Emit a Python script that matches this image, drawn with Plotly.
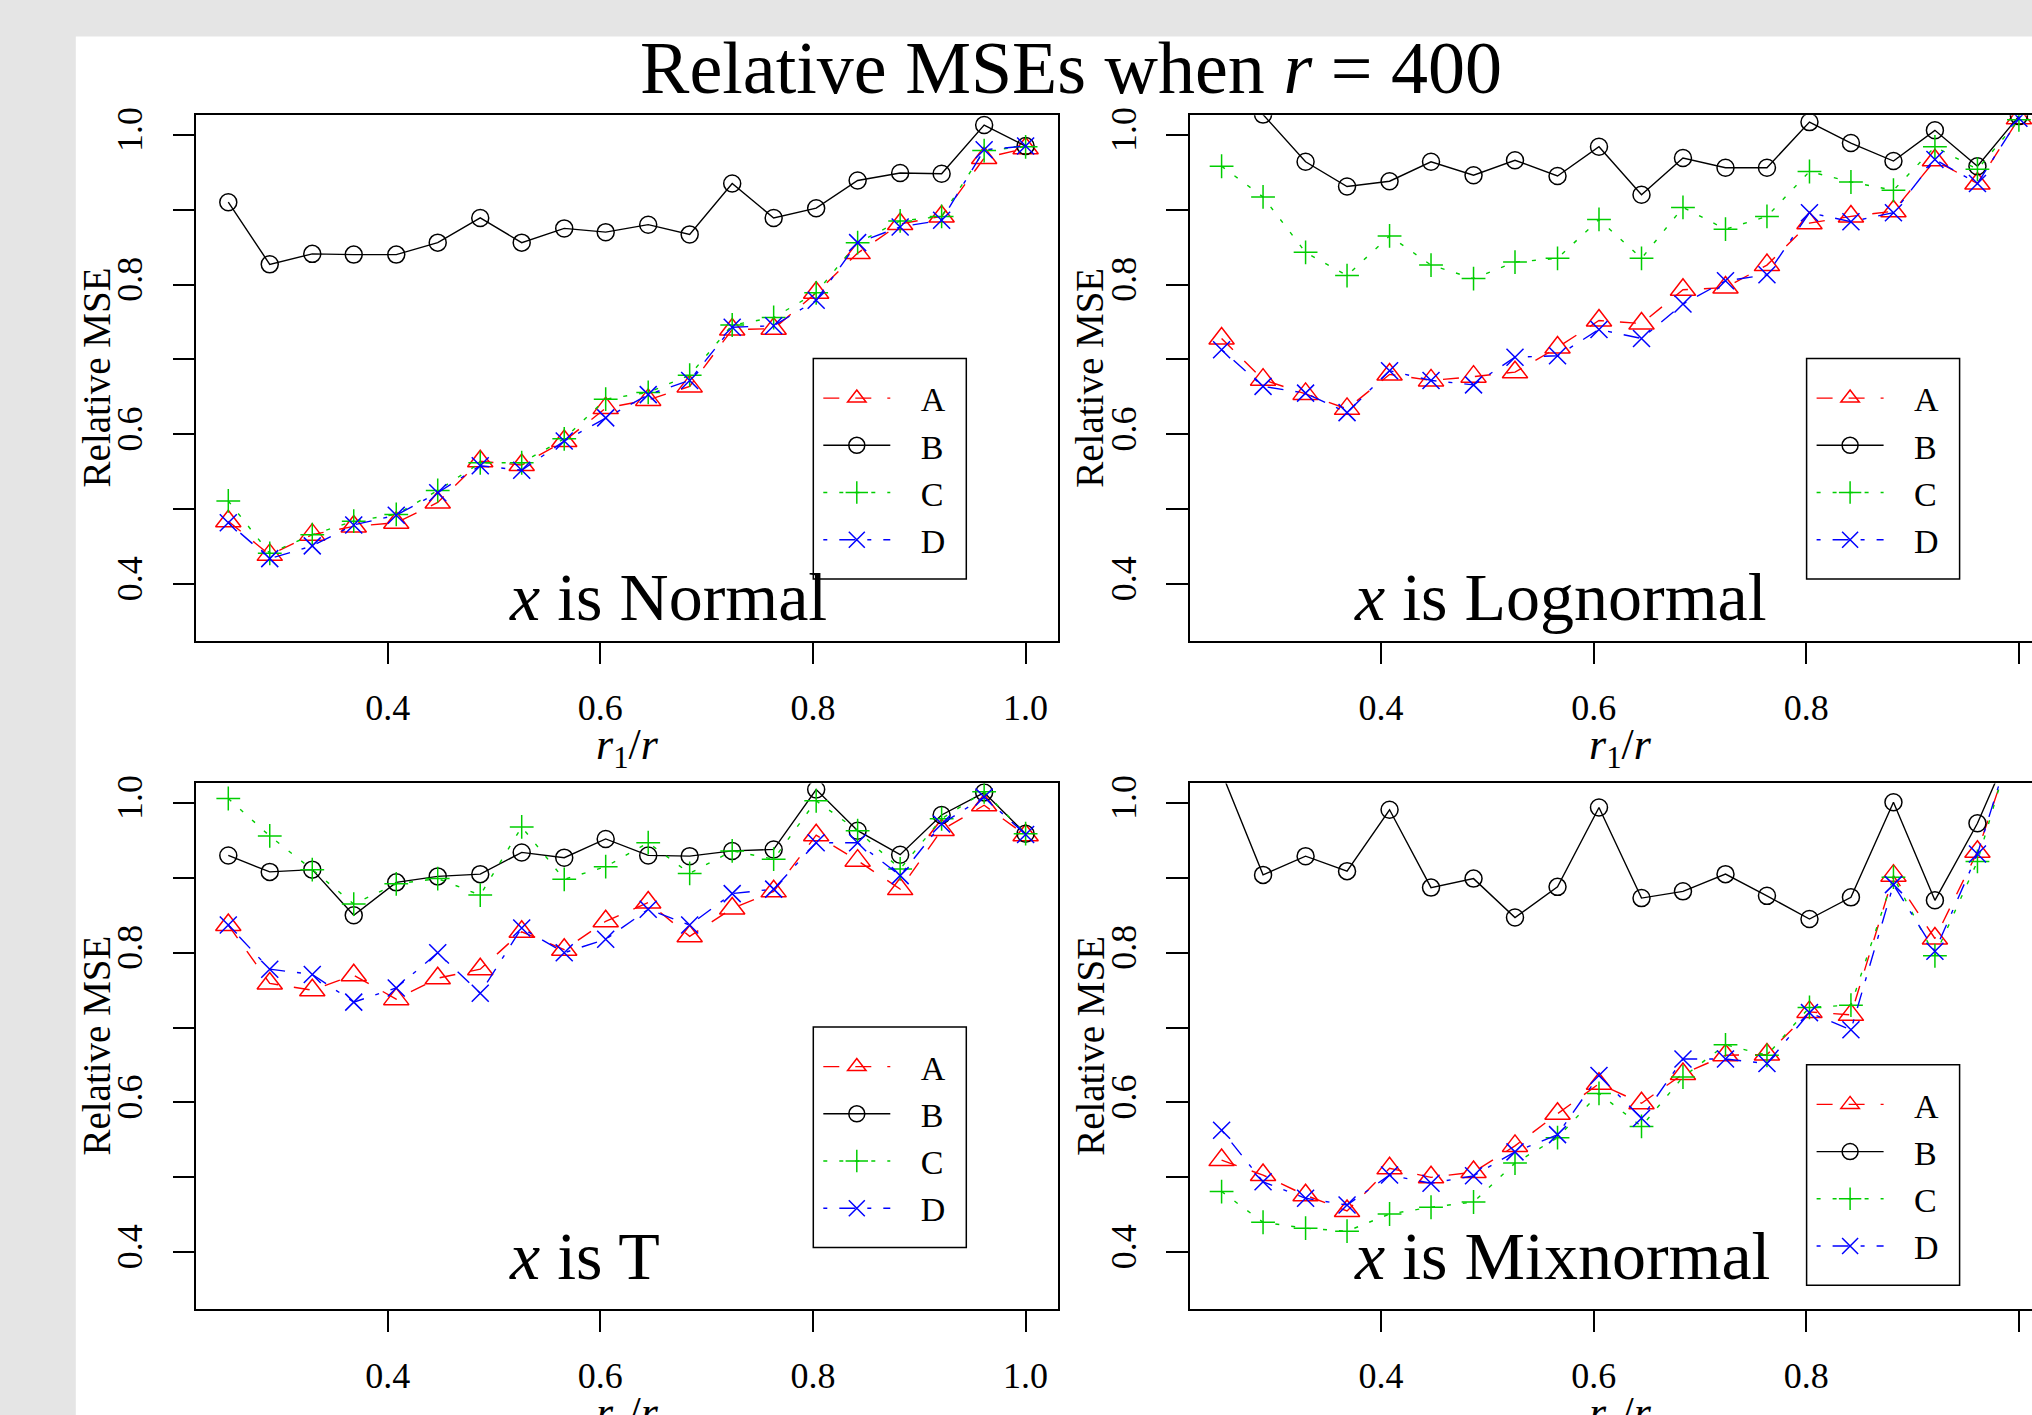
import plotly.graph_objects as go

W, H = 2032, 1415

# ---------------- data ----------------
r1_over_r = [0.25, 0.289, 0.329, 0.368, 0.408, 0.447, 0.487, 0.526, 0.566, 0.605,
             0.645, 0.684, 0.724, 0.763, 0.803, 0.842, 0.882, 0.921, 0.961, 1.0]

tick_x = [0.4, 0.6, 0.8, 1.0]
tick_x_text = ["0.4", "0.6", "0.8", "1.0"]
tick_y = [0.4, 0.6, 0.8, 1.0]
tick_y_text = ["0.4", "0.6", "0.8", "1.0"]
minor_tick_y = [0.5, 0.7, 0.9]

series_names = ["A", "B", "C", "D"]
panel_names = ["Normal", "Lognormal", "T", "Mixnormal"]

normal_A = [0.484, 0.439, 0.466, 0.477, 0.482, 0.509, 0.564, 0.559, 0.591, 0.635,
            0.646, 0.664, 0.740, 0.741, 0.789, 0.842, 0.881, 0.891, 0.969, 0.982]
normal_B = [0.910, 0.827, 0.841, 0.840, 0.840, 0.856, 0.889, 0.856, 0.875, 0.870,
            0.880, 0.867, 0.935, 0.889, 0.902, 0.939, 0.949, 0.948, 1.013, 0.985]
normal_C = [0.511, 0.441, 0.466, 0.484, 0.493, 0.525, 0.562, 0.562, 0.594, 0.647,
            0.656, 0.679, 0.746, 0.756, 0.789, 0.856, 0.885, 0.891, 0.979, 0.984]
normal_D = [0.482, 0.434, 0.451, 0.479, 0.492, 0.522, 0.558, 0.552, 0.591, 0.622,
            0.653, 0.672, 0.743, 0.745, 0.779, 0.856, 0.877, 0.886, 0.980, 0.985]

lognormal_A = [0.728, 0.673, 0.654, 0.634, 0.680, 0.672, 0.677, 0.683, 0.716, 0.752,
               0.748, 0.793, 0.796, 0.826, 0.882, 0.891, 0.898, 0.966, 0.935, 1.022]
lognormal_B = [1.060, 1.027, 0.964, 0.931, 0.938, 0.964, 0.946, 0.966, 0.945, 0.984,
               0.920, 0.969, 0.956, 0.956, 1.017, 0.989, 0.965, 1.006, 0.958, 1.025]
lognormal_C = [0.958, 0.917, 0.843, 0.812, 0.865, 0.826, 0.808, 0.830, 0.835, 0.887,
               0.835, 0.903, 0.874, 0.891, 0.951, 0.937, 0.926, 0.984, 0.954, 1.020]
lognormal_D = [0.713, 0.664, 0.655, 0.629, 0.685, 0.672, 0.666, 0.703, 0.705, 0.740,
               0.728, 0.774, 0.805, 0.813, 0.896, 0.884, 0.896, 0.967, 0.935, 1.022]

t_A = [0.837, 0.759, 0.750, 0.770, 0.738, 0.766, 0.778, 0.828, 0.804, 0.842,
       0.867, 0.822, 0.859, 0.882, 0.957, 0.923, 0.885, 0.964, 0.997, 0.957]
t_B = [0.930, 0.908, 0.911, 0.850, 0.894, 0.902, 0.905, 0.934, 0.927, 0.952,
       0.930, 0.929, 0.936, 0.938, 1.018, 0.963, 0.931, 0.984, 1.014, 0.959]
t_C = [1.006, 0.956, 0.911, 0.865, 0.892, 0.899, 0.877, 0.968, 0.898, 0.915,
       0.947, 0.906, 0.936, 0.925, 1.003, 0.963, 0.912, 0.979, 1.015, 0.959]
t_D = [0.837, 0.778, 0.771, 0.734, 0.753, 0.800, 0.746, 0.833, 0.800, 0.818,
       0.858, 0.837, 0.879, 0.885, 0.947, 0.947, 0.903, 0.972, 1.008, 0.958]

mix_A = [0.523, 0.503, 0.476, 0.455, 0.512, 0.500, 0.507, 0.542, 0.585, 0.625,
         0.599, 0.638, 0.663, 0.664, 0.721, 0.717, 0.903, 0.819, 0.935, 1.100]
mix_B = [1.041, 0.904, 0.929, 0.909, 0.991, 0.887, 0.899, 0.847, 0.888, 0.994,
         0.873, 0.882, 0.905, 0.876, 0.845, 0.874, 1.001, 0.870, 0.973, 1.100]
mix_C = [0.481, 0.440, 0.432, 0.428, 0.451, 0.460, 0.467, 0.519, 0.553, 0.612,
         0.568, 0.634, 0.677, 0.663, 0.727, 0.730, 0.901, 0.796, 0.922, 1.110]
mix_D = [0.563, 0.494, 0.472, 0.463, 0.503, 0.492, 0.502, 0.534, 0.557, 0.636,
         0.579, 0.658, 0.658, 0.652, 0.720, 0.697, 0.891, 0.802, 0.932, 1.110]

panels = [
    [normal_A, normal_B, normal_C, normal_D],
    [lognormal_A, lognormal_B, lognormal_C, lognormal_D],
    [t_A, t_B, t_C, t_D],
    [mix_A, mix_B, mix_C, mix_D],
]

# ---------------- styles ----------------
FONT = "Liberation Serif"
colors = ["#FF0000", "#000000", "#00CD00", "#0000FF"]
symbols = ["triangle-up-open", "circle-open", "cross-thin-open", "x-thin-open"]
msizes = [22, 17, 17, 17]
dashes = ["16px,16px", "solid", "4px,12px", "4px,12px,16px,12px"]
LEGEND_GAP = "\u00a0\u00a0\u00a0"   # space between legend symbol and its label

# panel boxes in pixels (left, right, top, bottom)
col_x = [(196.4, 1057.5), (1189.7, 2032.0)]
col_center = [627.0, 1620.0]
row_y = [(115.2, 640.6), (783.4, 1308.7)]
px_per_unit = (1057.5 - 196.4) / 0.81
x_ranges = [[0.22, 1.03], [0.22, 0.22 + (2032.0 - 1189.7) / px_per_unit]]
y_range = [0.3245, 1.0262]

legend_box = [(813.3, 358.5), (1806.6, 358.5), (813.3, 1027.0), (1806.6, 1064.8)]
LEG_W, LEG_H = 153.0, 220.5
label_pos = [(507, 597), (1352, 597), (507, 1255.6), (1352, 1255.6)]
ytitle_x = [96.5, 1089.8]
xtitle_y = [747.0, 1415.2]

fig = go.Figure()
layout = dict(
    width=W, height=H,
    margin=dict(l=0, r=0, t=0, b=0, pad=0),
    paper_bgcolor="#e5e5e5",
    plot_bgcolor="white",
    font=dict(family=FONT, color="black"),
    showlegend=True,
    title=dict(text="Relative MSEs when <i>r</i> = 400",
               font=dict(family=FONT, size=74, color="black"),
               x=1071 / W, xanchor="center", xref="container",
               y=1 - 67 / H, yanchor="middle", yref="container"),
)

annotations = []
shapes = [dict(type="rect", xref="paper", yref="paper", layer="below",
               x0=75.8 / W, x1=1.05, y0=-0.05, y1=1 - 36.6 / H,
               fillcolor="white", line=dict(width=0))]
tick_style = dict(ticks="outside", ticklen=22, tickwidth=1.5, tickcolor="black")

for p in range(4):
    row, col = divmod(p, 2)
    ax_suffix = "" if p == 0 else str(p + 1)
    xa, ya = "x" + ax_suffix, "y" + ax_suffix
    leg = "legend" if p == 0 else "legend" + str(p + 1)
    for s in range(4):
        fig.add_trace(go.Scatter(
            x=r1_over_r, y=panels[p][s], name=LEGEND_GAP + series_names[s],
            mode="lines+markers", xaxis=xa, yaxis=ya, legend=leg,
            line=dict(color=colors[s], width=1.4, dash=dashes[s]),
            marker=dict(symbol=symbols[s], size=msizes[s], color=colors[s],
                        line=dict(color=colors[s], width=1.5)),
        ))
    x0, x1 = col_x[col]
    y0, y1 = row_y[row]
    layout["xaxis" + ax_suffix] = dict(
        domain=[x0 / W, x1 / W], range=x_ranges[col], anchor=ya,
        showline=True, mirror=True, linecolor="black", linewidth=1.5,
        tickvals=tick_x, ticktext=tick_x_text, ticklabelstandoff=12,
        tickfont=dict(family=FONT, size=36, color="black"),
        showgrid=False, zeroline=False, automargin=False, fixedrange=True,
        **tick_style,
    )
    layout["yaxis" + ax_suffix] = dict(
        domain=[1 - y1 / H, 1 - y0 / H], range=y_range, anchor=xa,
        showline=True, mirror=(col == 0), linecolor="black", linewidth=1.5,
        tickvals=tick_y, ticktext=tick_y_text, tickangle=-90, ticklabelstandoff=16,
        minor=dict(tickmode="array", tickvals=minor_tick_y, showgrid=False, **tick_style),
        tickfont=dict(family=FONT, size=36, color="black"),
        showgrid=False, zeroline=False, automargin=False, fixedrange=True,
        **tick_style,
    )
    # legend: frame drawn as a shape, entries by plotly legend
    bx, by = legend_box[p]
    shapes.append(dict(type="rect", xref="paper", yref="paper", layer="above",
                       x0=bx / W, x1=(bx + LEG_W) / W,
                       y0=1 - (by + LEG_H) / H, y1=1 - by / H,
                       fillcolor="rgba(255,255,255,0)",
                       line=dict(color="black", width=1.5)))
    layout[leg] = dict(
        x=(bx + 5) / W, y=1 - (by + 11) / H, xanchor="left", yanchor="top",
        xref="paper", yref="paper",
        bgcolor="rgba(0,0,0,0)", borderwidth=0,
        font=dict(family=FONT, size=34, color="black"),
        tracegroupgap=0, itemsizing="trace", itemwidth=67,
    )
    # panel label
    tx, ty = label_pos[p]
    annotations.append(dict(
        text="<i>x</i> is " + panel_names[p], xref="paper", yref="paper",
        x=tx / W, y=1 - ty / H, xanchor="left", yanchor="middle",
        showarrow=False, font=dict(family=FONT, size=68, color="black"),
    ))
    # axis titles
    annotations.append(dict(
        text="Relative MSE", xref="paper", yref="paper", textangle=-90,
        x=ytitle_x[col] / W, y=1 - (y0 + y1) / 2 / H,
        xanchor="center", yanchor="middle", showarrow=False,
        font=dict(family=FONT, size=39, color="black"),
    ))
    annotations.append(dict(
        text="<i>r</i><sub>1</sub>/<i>r</i>", xref="paper", yref="paper",
        x=col_center[col] / W, y=1 - xtitle_y[row] / H,
        xanchor="center", yanchor="middle", showarrow=False,
        font=dict(family=FONT, size=44, color="black"),
    ))

layout["annotations"] = annotations
layout["shapes"] = shapes
fig.update_layout(**layout)

fig.write_html("out.html",
               config={"displayModeBar": False},
               post_script="document.body.style.margin='0';document.body.style.overflow='hidden';")
